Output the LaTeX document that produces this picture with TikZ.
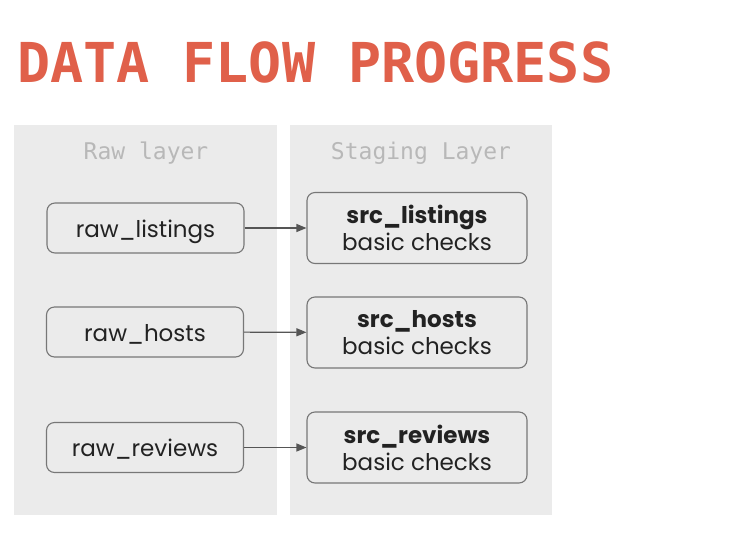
\documentclass[tikz,border=0pt]{standalone}
\usepackage{fontspec}
\setmainfont{Poppins}
\newfontfamily\titlefont{DejaVu Sans Mono}
\newfontfamily\layerfont{DejaVu Sans Mono}
\usetikzlibrary{arrows.meta}
\definecolor{titlered}{HTML}{E0604A}
\definecolor{panelgray}{HTML}{EBEBEB}
\definecolor{layergray}{HTML}{B8B8B8}
\definecolor{boxedge}{HTML}{777777}
\definecolor{ink}{HTML}{222222}
\definecolor{arrowgray}{HTML}{555555}
\tikzset{
  panel/.style={fill=panelgray, draw=none},
  layerlabel/.style={font=\layerfont\fontsize{23}{27}\selectfont, text=layergray},
  rawbox/.style={draw=boxedge, line width=1.1pt, rounded corners=8pt, fill=panelgray,
    minimum width=197pt, minimum height=50pt, inner sep=0pt,
    text height=18pt, text depth=0pt,
    font=\fontsize{23}{28}\selectfont, text=ink},
  srcbox/.style={draw=boxedge, line width=1.1pt, rounded corners=8pt, fill=panelgray,
    minimum width=220pt, minimum height=71pt, inner sep=0pt, align=center,
    font=\fontsize{23}{27}\selectfont, text=ink},
  flow/.style={draw=arrowgray, line width=1.1pt, -{Triangle[length=10pt,width=8pt]}}
}
\begin{document}
\begin{tikzpicture}[x=1pt,y=-1pt]
  \useasboundingbox[fill=white] (0,0) rectangle (740,542);
  % title
  \node[anchor=base west, inner sep=0pt, text=titlered,
        font=\titlefont\bfseries\fontsize{55}{60}\selectfont] (title) at (17,82) {DATA FLOW PROGRESS};
  % layer panels
  \fill[panel] (14,125) rectangle (277,515);
  \fill[panel] (290,125) rectangle (552,515);
  \node[layerlabel] (rawlabel) at (146,153) {Raw layer};
  \node[layerlabel] (stglabel) at (421,153) {Staging Layer};
  % raw layer models
  \node[rawbox] (rawl) at (145.5,228) {raw\_listings};
  \node[rawbox] (rawh) at (145,332) {raw\_hosts};
  \node[rawbox] (rawr) at (145,447.5) {raw\_reviews};
  % staging layer models
  \node[srcbox] (srcl) at (417,228) {\textbf{src\_listings}\\basic checks};
  \node[srcbox] (srch) at (417,332.5) {\textbf{src\_hosts}\\basic checks};
  \node[srcbox] (srcr) at (417,447.5) {\textbf{src\_reviews}\\basic checks};
  % flows
  \draw[flow] (rawl) -- (srcl);
  \draw[flow] (rawh) -- (srch);
  \draw[flow] (rawr) -- (srcr);
\end{tikzpicture}
\end{document}
